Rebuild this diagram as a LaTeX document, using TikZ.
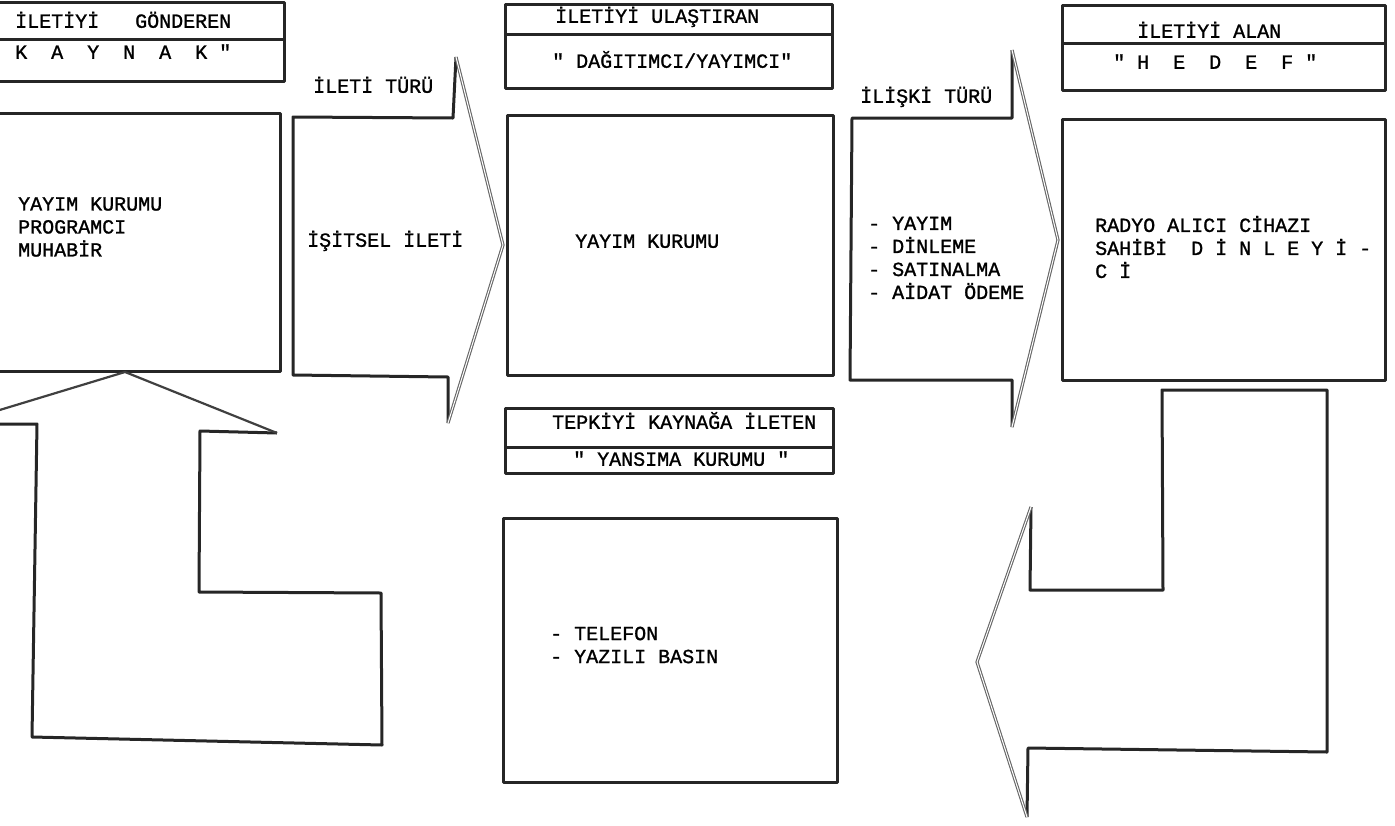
\documentclass[tikz,border=0pt]{standalone}
\usepackage{fontspec}
\newfontfamily\typew[FakeBold=1.2]{Liberation Mono}
\tikzset{
  frame/.style={line width=3pt, draw=black!85, line join=round},
  headline/.style={line width=1.1pt, draw=black!60, double=white, double distance=1pt, line join=round},
  tw/.style={font=\typew\fontsize{20}{23}\selectfont, inner sep=0pt, text height=11.5pt, text depth=0pt, anchor=west},
  twlines/.style={font=\typew\fontsize{20}{23}\selectfont, inner sep=0pt, align=left, anchor=west}
}
\begin{document}
\begin{tikzpicture}[x=1pt,y=-1pt]
\useasboundingbox (0,0) rectangle (1395,825);
\clip (0,0) rectangle (1395,825);
% kaynak
\draw[frame] (-10,2) -- (284,2) -- (284,81) -- (-10,81) (-10,39) -- (284,39);
\draw[frame] (-10,113) -- (280,113) -- (280,371) -- (-10,371);
\node[tw] (gonderen) at (15,22) {İLETİYİ~~~GÖNDEREN};
\node[tw] (kaynak) at (15,53) {K~~A~~Y~~N~~A~~K~"};
\node[twlines] (kaynaktxt) at (18,227) {YAYIM KURUMU\\PROGRAMCI\\MUHABİR};
% ileti turu
\draw[frame] (456,57) -- (453,118) -- (293,117) -- (293,375) -- (448,377) -- (448,423);
\draw[headline] (456,57) -- (503,245) -- (448,423);
\node[tw] (iletituru) at (313,87) {İLETİ TÜRÜ};
\node[tw] (isitsel) at (307,241) {İŞİTSEL İLETİ};
% dagitimci
\draw[frame] (505,4) rectangle (832,88) (505,34) -- (832,34);
\draw[frame] (507,115) rectangle (833,375);
\node[tw] (ulastiran) at (555,17) {İLETİYİ ULAŞTIRAN};
\node[tw] (dagitimci) at (552,62) {" DAĞITIMCI/YAYIMCI"};
\node[tw] (yayimkurumu) at (575,242) {YAYIM KURUMU};
% iliski turu
\draw[frame] (1012,50) -- (1012,118) -- (852,118) -- (850,380) -- (1012,380) -- (1012,427);
\draw[headline] (1012,50) -- (1058,240) -- (1012,427);
\node[tw] (iliskituru) at (860,97) {İLİŞKİ TÜRÜ};
\node[twlines] (iliskitxt) at (868,258) {- YAYIM\\- DİNLEME\\- SATINALMA\\- AİDAT ÖDEME};
% hedef
\draw[frame] (1062,5) rectangle (1385,90) (1062,43) -- (1385,43);
\draw[frame] (1062,119) rectangle (1385,380);
\node[tw] (alan) at (1137,32) {İLETİYİ ALAN};
\node[tw] (hedef) at (1113,63) {"~H~~E~~D~~E~~F~"};
\node[twlines] (hedeftxt) at (1095,247) {RADYO ALICI CİHAZI\\SAHİBİ~~D~İ~N~L~E~Y~İ~-\\C~İ};
% yansima
\draw[frame] (505,408) rectangle (833,473) (505,447) -- (833,447);
\draw[frame] (503,518) rectangle (837,782);
\node[tw] (tepki) at (552,423) {TEPKİYİ KAYNAĞA İLETEN};
\node[tw] (yansima) at (573,460) {" YANSIMA KURUMU "};
\node[twlines] (yansimatxt) at (550,645) {- TELEFON\\- YAZILI BASIN};
% geri bildirim oklari
\draw[frame] (1031,507) -- (1030,590) -- (1163,590) -- (1162,390) -- (1327,390) -- (1327,752) -- (1028,748) -- (1027,817);
\draw[headline] (1027,817) -- (977,662) -- (1031,507);
\draw[frame] (277,433) -- (200,431) -- (199,592) -- (381,593) -- (382,745) -- (32,737) -- (37,424) -- (-30,424);
\draw[frame, line width=2.2pt, draw=black!75] (277,433) -- (125,372) -- (-30,419);
\end{tikzpicture}
\end{document}
